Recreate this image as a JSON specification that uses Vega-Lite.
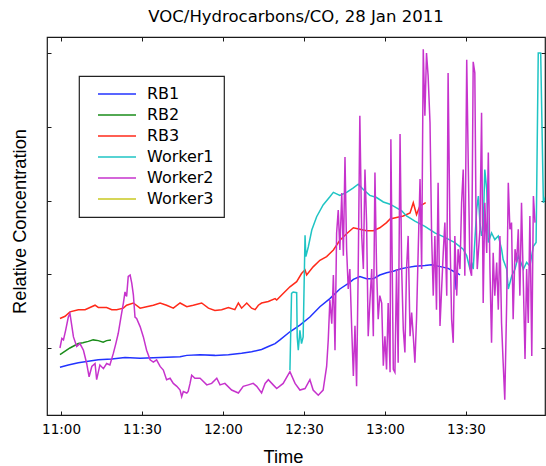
{
  "$schema": "https://vega.github.io/schema/vega-lite/v6.json",
  "width": 498,
  "height": 378,
  "autosize": {"type": "none"},
  "padding": {"left": 47, "top": 37, "right": 1, "bottom": 51},
  "background": "#ffffff",
  "config": {
    "view": {"stroke": "#1a1a1a", "strokeWidth": 1.2},
    "axis": {"grid": false, "domain": false, "tickColor": "#1a1a1a", "tickWidth": 1, "tickSize": -4},
    "legend": {"strokeColor": "#222222", "strokeWidth": 1.2}
  },
  "title": {
    "text": "VOC/Hydrocarbons/CO, 28 Jan 2011",
    "font": "DejaVu Sans",
    "fontSize": 16.5,
    "fontWeight": "normal",
    "color": "#000000",
    "anchor": "middle",
    "baseline": "alphabetic",
    "offset": -2
  },
  "datasets": {
    "conc": [
      {"series": "RB1", "time": 659.6, "conc": 0.74},
      {"series": "RB1", "time": 662.7, "conc": 0.77},
      {"series": "RB1", "time": 666.4, "conc": 0.80},
      {"series": "RB1", "time": 670.1, "conc": 0.82},
      {"series": "RB1", "time": 673.8, "conc": 0.84},
      {"series": "RB1", "time": 678.8, "conc": 0.85},
      {"series": "RB1", "time": 683.7, "conc": 0.87},
      {"series": "RB1", "time": 689.3, "conc": 0.86},
      {"series": "RB1", "time": 696.7, "conc": 0.87},
      {"series": "RB1", "time": 704.1, "conc": 0.88},
      {"series": "RB1", "time": 706.6, "conc": 0.90},
      {"series": "RB1", "time": 711.5, "conc": 0.91},
      {"series": "RB1", "time": 717.0, "conc": 0.90},
      {"series": "RB1", "time": 722.0, "conc": 0.91},
      {"series": "RB1", "time": 726.9, "conc": 0.93},
      {"series": "RB1", "time": 730.6, "conc": 0.95},
      {"series": "RB1", "time": 734.3, "conc": 0.98},
      {"series": "RB1", "time": 736.8, "conc": 1.02},
      {"series": "RB1", "time": 739.3, "conc": 1.06},
      {"series": "RB1", "time": 741.1, "conc": 1.11},
      {"series": "RB1", "time": 744.8, "conc": 1.22},
      {"series": "RB1", "time": 748.5, "conc": 1.31},
      {"series": "RB1", "time": 752.2, "conc": 1.42},
      {"series": "RB1", "time": 755.9, "conc": 1.56},
      {"series": "RB1", "time": 759.6, "conc": 1.67},
      {"series": "RB1", "time": 763.3, "conc": 1.80},
      {"series": "RB1", "time": 767.0, "conc": 1.89},
      {"series": "RB1", "time": 768.3, "conc": 1.93},
      {"series": "RB1", "time": 770.7, "conc": 1.97},
      {"series": "RB1", "time": 773.2, "conc": 1.94},
      {"series": "RB1", "time": 775.7, "conc": 1.94},
      {"series": "RB1", "time": 778.1, "conc": 1.99},
      {"series": "RB1", "time": 780.6, "conc": 2.02},
      {"series": "RB1", "time": 783.1, "conc": 2.04},
      {"series": "RB1", "time": 785.6, "conc": 2.07},
      {"series": "RB1", "time": 788.0, "conc": 2.09},
      {"series": "RB1", "time": 791.1, "conc": 2.11},
      {"series": "RB1", "time": 794.8, "conc": 2.12},
      {"series": "RB1", "time": 797.3, "conc": 2.13},
      {"series": "RB1", "time": 799.7, "conc": 2.11},
      {"series": "RB1", "time": 803.4, "conc": 2.08},
      {"series": "RB1", "time": 805.9, "conc": 2.03},
      {"series": "RB1", "time": 806.4, "conc": 1.79},
      {"series": "RB1", "time": 806.7, "conc": 2.02},
      {"series": "RB1", "time": 807.8, "conc": 1.99},

      {"series": "RB2", "time": 659.6, "conc": 0.91},
      {"series": "RB2", "time": 663.3, "conc": 1.00},
      {"series": "RB2", "time": 666.4, "conc": 1.06},
      {"series": "RB2", "time": 668.1, "conc": 1.07},
      {"series": "RB2", "time": 670.1, "conc": 1.09},
      {"series": "RB2", "time": 671.9, "conc": 1.11},
      {"series": "RB2", "time": 673.8, "conc": 1.10},
      {"series": "RB2", "time": 675.6, "conc": 1.08},
      {"series": "RB2", "time": 676.9, "conc": 1.10},
      {"series": "RB2", "time": 678.5, "conc": 1.11},

      {"series": "RB3", "time": 659.6, "conc": 1.40},
      {"series": "RB3", "time": 661.5, "conc": 1.43},
      {"series": "RB3", "time": 663.3, "conc": 1.49},
      {"series": "RB3", "time": 666.4, "conc": 1.52},
      {"series": "RB3", "time": 668.9, "conc": 1.52},
      {"series": "RB3", "time": 672.6, "conc": 1.58},
      {"series": "RB3", "time": 673.8, "conc": 1.55},
      {"series": "RB3", "time": 676.9, "conc": 1.55},
      {"series": "RB3", "time": 678.8, "conc": 1.52},
      {"series": "RB3", "time": 680.6, "conc": 1.52},
      {"series": "RB3", "time": 683.1, "conc": 1.54},
      {"series": "RB3", "time": 684.3, "conc": 1.58},
      {"series": "RB3", "time": 686.8, "conc": 1.61},
      {"series": "RB3", "time": 689.3, "conc": 1.54},
      {"series": "RB3", "time": 691.7, "conc": 1.56},
      {"series": "RB3", "time": 694.2, "conc": 1.58},
      {"series": "RB3", "time": 696.7, "conc": 1.61},
      {"series": "RB3", "time": 699.1, "conc": 1.58},
      {"series": "RB3", "time": 701.6, "conc": 1.54},
      {"series": "RB3", "time": 704.1, "conc": 1.61},
      {"series": "RB3", "time": 706.6, "conc": 1.56},
      {"series": "RB3", "time": 709.0, "conc": 1.58},
      {"series": "RB3", "time": 712.1, "conc": 1.61},
      {"series": "RB3", "time": 714.6, "conc": 1.54},
      {"series": "RB3", "time": 717.0, "conc": 1.51},
      {"series": "RB3", "time": 719.5, "conc": 1.52},
      {"series": "RB3", "time": 722.0, "conc": 1.55},
      {"series": "RB3", "time": 724.4, "conc": 1.52},
      {"series": "RB3", "time": 725.7, "conc": 1.61},
      {"series": "RB3", "time": 726.9, "conc": 1.54},
      {"series": "RB3", "time": 728.8, "conc": 1.61},
      {"series": "RB3", "time": 730.6, "conc": 1.54},
      {"series": "RB3", "time": 731.9, "conc": 1.52},
      {"series": "RB3", "time": 733.1, "conc": 1.58},
      {"series": "RB3", "time": 734.3, "conc": 1.61},
      {"series": "RB3", "time": 736.8, "conc": 1.63},
      {"series": "RB3", "time": 739.3, "conc": 1.67},
      {"series": "RB3", "time": 739.9, "conc": 1.65},
      {"series": "RB3", "time": 742.3, "conc": 1.74},
      {"series": "RB3", "time": 744.8, "conc": 1.83},
      {"series": "RB3", "time": 747.3, "conc": 1.90},
      {"series": "RB3", "time": 749.1, "conc": 2.01},
      {"series": "RB3", "time": 750.4, "conc": 2.06},
      {"series": "RB3", "time": 751.0, "conc": 1.99},
      {"series": "RB3", "time": 753.4, "conc": 2.10},
      {"series": "RB3", "time": 755.9, "conc": 2.19},
      {"series": "RB3", "time": 758.4, "conc": 2.24},
      {"series": "RB3", "time": 760.9, "conc": 2.33},
      {"series": "RB3", "time": 763.3, "conc": 2.46},
      {"series": "RB3", "time": 765.8, "conc": 2.55},
      {"series": "RB3", "time": 768.3, "conc": 2.63},
      {"series": "RB3", "time": 770.7, "conc": 2.61},
      {"series": "RB3", "time": 773.2, "conc": 2.59},
      {"series": "RB3", "time": 775.7, "conc": 2.59},
      {"series": "RB3", "time": 778.1, "conc": 2.63},
      {"series": "RB3", "time": 780.6, "conc": 2.70},
      {"series": "RB3", "time": 781.9, "conc": 2.75},
      {"series": "RB3", "time": 784.3, "conc": 2.77},
      {"series": "RB3", "time": 786.8, "conc": 2.79},
      {"series": "RB3", "time": 789.3, "conc": 2.83},
      {"series": "RB3", "time": 790.5, "conc": 2.97},
      {"series": "RB3", "time": 791.7, "conc": 2.81},
      {"series": "RB3", "time": 793.0, "conc": 2.93},
      {"series": "RB3", "time": 794.2, "conc": 2.95},
      {"series": "RB3", "time": 795.1, "conc": 2.97},

      {"series": "Worker1", "time": 744.8, "conc": 0.70},
      {"series": "Worker1", "time": 745.4, "conc": 1.74},
      {"series": "Worker1", "time": 746.0, "conc": 1.76},
      {"series": "Worker1", "time": 747.3, "conc": 1.75},
      {"series": "Worker1", "time": 747.5, "conc": 1.15},
      {"series": "Worker1", "time": 747.9, "conc": 0.97},
      {"series": "Worker1", "time": 748.5, "conc": 1.24},
      {"series": "Worker1", "time": 749.1, "conc": 1.06},
      {"series": "Worker1", "time": 749.7, "conc": 1.15},
      {"series": "Worker1", "time": 750.4, "conc": 2.53},
      {"series": "Worker1", "time": 750.7, "conc": 2.24},
      {"series": "Worker1", "time": 751.6, "conc": 2.37},
      {"series": "Worker1", "time": 752.9, "conc": 2.60},
      {"series": "Worker1", "time": 754.7, "conc": 2.78},
      {"series": "Worker1", "time": 757.1, "conc": 2.94},
      {"series": "Worker1", "time": 759.6, "conc": 3.05},
      {"series": "Worker1", "time": 760.9, "conc": 3.11},
      {"series": "Worker1", "time": 763.3, "conc": 3.07},
      {"series": "Worker1", "time": 765.8, "conc": 3.11},
      {"series": "Worker1", "time": 768.3, "conc": 3.17},
      {"series": "Worker1", "time": 770.1, "conc": 3.22},
      {"series": "Worker1", "time": 772.0, "conc": 3.15},
      {"series": "Worker1", "time": 774.4, "conc": 3.07},
      {"series": "Worker1", "time": 776.9, "conc": 3.04},
      {"series": "Worker1", "time": 779.4, "conc": 2.98},
      {"series": "Worker1", "time": 781.9, "conc": 2.95},
      {"series": "Worker1", "time": 784.3, "conc": 2.90},
      {"series": "Worker1", "time": 786.2, "conc": 2.86},
      {"series": "Worker1", "time": 788.0, "conc": 2.79},
      {"series": "Worker1", "time": 791.1, "conc": 2.72},
      {"series": "Worker1", "time": 794.8, "conc": 2.65},
      {"series": "Worker1", "time": 798.5, "conc": 2.56},
      {"series": "Worker1", "time": 802.2, "conc": 2.50},
      {"series": "Worker1", "time": 805.9, "conc": 2.43},
      {"series": "Worker1", "time": 809.0, "conc": 2.34},
      {"series": "Worker1", "time": 810.3, "conc": 2.25},
      {"series": "Worker1", "time": 811.5, "conc": 2.07},
      {"series": "Worker1", "time": 812.1, "conc": 2.16},
      {"series": "Worker1", "time": 812.7, "conc": 2.07},
      {"series": "Worker1", "time": 814.0, "conc": 2.88},
      {"series": "Worker1", "time": 814.6, "conc": 3.06},
      {"series": "Worker1", "time": 815.2, "conc": 2.70},
      {"series": "Worker1", "time": 815.8, "conc": 2.52},
      {"series": "Worker1", "time": 816.4, "conc": 2.61},
      {"series": "Worker1", "time": 817.0, "conc": 3.42},
      {"series": "Worker1", "time": 817.7, "conc": 3.15},
      {"series": "Worker1", "time": 818.3, "conc": 2.43},
      {"series": "Worker1", "time": 819.5, "conc": 2.56},
      {"series": "Worker1", "time": 820.7, "conc": 2.47},
      {"series": "Worker1", "time": 822.0, "conc": 2.52},
      {"series": "Worker1", "time": 823.2, "conc": 2.34},
      {"series": "Worker1", "time": 823.8, "conc": 2.20},
      {"series": "Worker1", "time": 825.1, "conc": 2.07},
      {"series": "Worker1", "time": 825.7, "conc": 1.80},
      {"series": "Worker1", "time": 827.0, "conc": 1.98},
      {"series": "Worker1", "time": 828.2, "conc": 2.07},
      {"series": "Worker1", "time": 829.4, "conc": 2.25},
      {"series": "Worker1", "time": 831.3, "conc": 2.07},
      {"series": "Worker1", "time": 832.5, "conc": 2.16},
      {"series": "Worker1", "time": 833.7, "conc": 2.11},
      {"series": "Worker1", "time": 835.0, "conc": 2.38},
      {"series": "Worker1", "time": 836.0, "conc": 2.43},
      {"series": "Worker1", "time": 836.8, "conc": 5.00},
      {"series": "Worker1", "time": 837.7, "conc": 5.00},
      {"series": "Worker1", "time": 838.7, "conc": 2.97},
      {"series": "Worker1", "time": 839.6, "conc": 3.06},

      {"series": "Worker2", "time": 659.6, "conc": 1.00},
      {"series": "Worker2", "time": 660.3, "conc": 1.13},
      {"series": "Worker2", "time": 660.9, "conc": 1.11},
      {"series": "Worker2", "time": 661.7, "conc": 1.24},
      {"series": "Worker2", "time": 662.7, "conc": 1.42},
      {"series": "Worker2", "time": 663.3, "conc": 1.47},
      {"series": "Worker2", "time": 664.6, "conc": 1.15},
      {"series": "Worker2", "time": 665.8, "conc": 1.02},
      {"series": "Worker2", "time": 667.0, "conc": 1.06},
      {"series": "Worker2", "time": 668.3, "conc": 0.97},
      {"series": "Worker2", "time": 669.5, "conc": 0.79},
      {"series": "Worker2", "time": 670.4, "conc": 0.61},
      {"series": "Worker2", "time": 671.4, "conc": 0.75},
      {"series": "Worker2", "time": 672.6, "conc": 0.79},
      {"series": "Worker2", "time": 673.2, "conc": 0.57},
      {"series": "Worker2", "time": 674.4, "conc": 0.77},
      {"series": "Worker2", "time": 675.7, "conc": 0.72},
      {"series": "Worker2", "time": 676.9, "conc": 0.79},
      {"series": "Worker2", "time": 678.1, "conc": 0.77},
      {"series": "Worker2", "time": 679.4, "conc": 0.93},
      {"series": "Worker2", "time": 680.3, "conc": 1.06},
      {"series": "Worker2", "time": 681.2, "conc": 1.20},
      {"series": "Worker2", "time": 682.2, "conc": 1.42},
      {"series": "Worker2", "time": 683.1, "conc": 1.61},
      {"series": "Worker2", "time": 683.7, "conc": 1.76},
      {"series": "Worker2", "time": 684.3, "conc": 1.70},
      {"series": "Worker2", "time": 684.9, "conc": 1.97},
      {"series": "Worker2", "time": 685.6, "conc": 1.99},
      {"series": "Worker2", "time": 686.2, "conc": 1.88},
      {"series": "Worker2", "time": 686.8, "conc": 1.72},
      {"series": "Worker2", "time": 687.4, "conc": 1.42},
      {"series": "Worker2", "time": 688.0, "conc": 1.40},
      {"series": "Worker2", "time": 689.3, "conc": 1.29},
      {"series": "Worker2", "time": 690.5, "conc": 1.15},
      {"series": "Worker2", "time": 691.7, "conc": 0.97},
      {"series": "Worker2", "time": 693.0, "conc": 0.84},
      {"series": "Worker2", "time": 694.2, "conc": 0.81},
      {"series": "Worker2", "time": 695.4, "conc": 0.84},
      {"series": "Worker2", "time": 696.7, "conc": 0.75},
      {"series": "Worker2", "time": 697.9, "conc": 0.70},
      {"series": "Worker2", "time": 699.1, "conc": 0.57},
      {"series": "Worker2", "time": 700.4, "conc": 0.59},
      {"series": "Worker2", "time": 701.6, "conc": 0.52},
      {"series": "Worker2", "time": 702.9, "conc": 0.48},
      {"series": "Worker2", "time": 704.1, "conc": 0.43},
      {"series": "Worker2", "time": 704.7, "conc": 0.34},
      {"series": "Worker2", "time": 705.3, "conc": 0.41},
      {"series": "Worker2", "time": 706.6, "conc": 0.39},
      {"series": "Worker2", "time": 707.1, "conc": 0.41},
      {"series": "Worker2", "time": 707.8, "conc": 0.52},
      {"series": "Worker2", "time": 708.4, "conc": 0.63},
      {"series": "Worker2", "time": 709.6, "conc": 0.59},
      {"series": "Worker2", "time": 711.5, "conc": 0.59},
      {"series": "Worker2", "time": 712.1, "conc": 0.57},
      {"series": "Worker2", "time": 714.0, "conc": 0.50},
      {"series": "Worker2", "time": 715.8, "conc": 0.52},
      {"series": "Worker2", "time": 717.7, "conc": 0.59},
      {"series": "Worker2", "time": 718.9, "conc": 0.50},
      {"series": "Worker2", "time": 720.7, "conc": 0.52},
      {"series": "Worker2", "time": 723.2, "conc": 0.43},
      {"series": "Worker2", "time": 725.7, "conc": 0.39},
      {"series": "Worker2", "time": 727.5, "conc": 0.48},
      {"series": "Worker2", "time": 729.4, "conc": 0.50},
      {"series": "Worker2", "time": 731.2, "conc": 0.52},
      {"series": "Worker2", "time": 732.5, "conc": 0.48},
      {"series": "Worker2", "time": 734.3, "conc": 0.39},
      {"series": "Worker2", "time": 735.6, "conc": 0.52},
      {"series": "Worker2", "time": 736.8, "conc": 0.57},
      {"series": "Worker2", "time": 738.6, "conc": 0.50},
      {"series": "Worker2", "time": 739.9, "conc": 0.45},
      {"series": "Worker2", "time": 742.3, "conc": 0.52},
      {"series": "Worker2", "time": 744.8, "conc": 0.68},
      {"series": "Worker2", "time": 746.7, "conc": 0.52},
      {"series": "Worker2", "time": 748.5, "conc": 0.43},
      {"series": "Worker2", "time": 750.4, "conc": 0.45},
      {"series": "Worker2", "time": 752.2, "conc": 0.57},
      {"series": "Worker2", "time": 753.4, "conc": 0.43},
      {"series": "Worker2", "time": 755.3, "conc": 0.36},
      {"series": "Worker2", "time": 757.1, "conc": 0.43},
      {"series": "Worker2", "time": 758.4, "conc": 0.75},
      {"series": "Worker2", "time": 759.0, "conc": 1.11},
      {"series": "Worker2", "time": 759.6, "conc": 1.65},
      {"series": "Worker2", "time": 760.3, "conc": 1.33},
      {"series": "Worker2", "time": 760.9, "conc": 1.99},
      {"series": "Worker2", "time": 761.5, "conc": 0.97},
      {"series": "Worker2", "time": 762.1, "conc": 2.56},
      {"series": "Worker2", "time": 762.7, "conc": 2.87},
      {"series": "Worker2", "time": 763.3, "conc": 2.33},
      {"series": "Worker2", "time": 764.0, "conc": 3.10},
      {"series": "Worker2", "time": 764.6, "conc": 2.25},
      {"series": "Worker2", "time": 765.2, "conc": 3.59},
      {"series": "Worker2", "time": 765.8, "conc": 2.34},
      {"series": "Worker2", "time": 766.4, "conc": 1.80},
      {"series": "Worker2", "time": 767.0, "conc": 2.07},
      {"series": "Worker2", "time": 767.7, "conc": 1.25},
      {"series": "Worker2", "time": 768.3, "conc": 0.62},
      {"series": "Worker2", "time": 768.9, "conc": 1.30},
      {"series": "Worker2", "time": 769.5, "conc": 0.48},
      {"series": "Worker2", "time": 770.1, "conc": 2.07},
      {"series": "Worker2", "time": 770.7, "conc": 4.15},
      {"series": "Worker2", "time": 771.4, "conc": 2.52},
      {"series": "Worker2", "time": 772.0, "conc": 2.07},
      {"series": "Worker2", "time": 772.6, "conc": 3.42},
      {"series": "Worker2", "time": 773.2, "conc": 2.70},
      {"series": "Worker2", "time": 773.8, "conc": 1.16},
      {"series": "Worker2", "time": 774.4, "conc": 1.61},
      {"series": "Worker2", "time": 775.1, "conc": 2.07},
      {"series": "Worker2", "time": 775.7, "conc": 1.16},
      {"series": "Worker2", "time": 776.3, "conc": 3.38},
      {"series": "Worker2", "time": 776.9, "conc": 2.07},
      {"series": "Worker2", "time": 777.5, "conc": 1.39},
      {"series": "Worker2", "time": 778.1, "conc": 1.71},
      {"series": "Worker2", "time": 778.8, "conc": 1.61},
      {"series": "Worker2", "time": 779.4, "conc": 0.76},
      {"series": "Worker2", "time": 780.0, "conc": 1.16},
      {"series": "Worker2", "time": 780.6, "conc": 0.71},
      {"series": "Worker2", "time": 781.2, "conc": 1.61},
      {"series": "Worker2", "time": 781.9, "conc": 0.67},
      {"series": "Worker2", "time": 782.2, "conc": 3.83},
      {"series": "Worker2", "time": 783.1, "conc": 0.71},
      {"series": "Worker2", "time": 783.7, "conc": 0.67},
      {"series": "Worker2", "time": 784.3, "conc": 2.07},
      {"series": "Worker2", "time": 784.9, "conc": 0.80},
      {"series": "Worker2", "time": 785.6, "conc": 3.90},
      {"series": "Worker2", "time": 786.2, "conc": 2.07},
      {"series": "Worker2", "time": 786.8, "conc": 1.25},
      {"series": "Worker2", "time": 787.4, "conc": 0.94},
      {"series": "Worker2", "time": 788.0, "conc": 2.07},
      {"series": "Worker2", "time": 788.6, "conc": 2.52},
      {"series": "Worker2", "time": 789.3, "conc": 1.16},
      {"series": "Worker2", "time": 789.9, "conc": 1.48},
      {"series": "Worker2", "time": 790.5, "conc": 1.16},
      {"series": "Worker2", "time": 791.1, "conc": 0.80},
      {"series": "Worker2", "time": 791.7, "conc": 1.39},
      {"series": "Worker2", "time": 792.3, "conc": 2.29},
      {"series": "Worker2", "time": 793.0, "conc": 3.29},
      {"series": "Worker2", "time": 793.6, "conc": 2.07},
      {"series": "Worker2", "time": 794.2, "conc": 5.05},
      {"series": "Worker2", "time": 794.8, "conc": 4.15},
      {"series": "Worker2", "time": 795.4, "conc": 5.00},
      {"series": "Worker2", "time": 796.0, "conc": 4.69},
      {"series": "Worker2", "time": 796.7, "conc": 4.05},
      {"series": "Worker2", "time": 797.3, "conc": 2.52},
      {"series": "Worker2", "time": 797.9, "conc": 1.71},
      {"series": "Worker2", "time": 798.5, "conc": 2.52},
      {"series": "Worker2", "time": 799.1, "conc": 1.52},
      {"series": "Worker2", "time": 799.7, "conc": 3.24},
      {"series": "Worker2", "time": 800.4, "conc": 1.30},
      {"series": "Worker2", "time": 801.0, "conc": 1.80},
      {"series": "Worker2", "time": 801.6, "conc": 2.29},
      {"series": "Worker2", "time": 802.2, "conc": 2.70},
      {"series": "Worker2", "time": 802.9, "conc": 1.71},
      {"series": "Worker2", "time": 803.4, "conc": 4.73},
      {"series": "Worker2", "time": 804.1, "conc": 2.52},
      {"series": "Worker2", "time": 804.7, "conc": 1.39},
      {"series": "Worker2", "time": 805.3, "conc": 1.07},
      {"series": "Worker2", "time": 805.9, "conc": 2.52},
      {"series": "Worker2", "time": 806.6, "conc": 1.71},
      {"series": "Worker2", "time": 807.1, "conc": 2.34},
      {"series": "Worker2", "time": 807.8, "conc": 2.07},
      {"series": "Worker2", "time": 808.4, "conc": 2.97},
      {"series": "Worker2", "time": 809.0, "conc": 3.42},
      {"series": "Worker2", "time": 809.6, "conc": 1.98},
      {"series": "Worker2", "time": 810.3, "conc": 4.91},
      {"series": "Worker2", "time": 810.9, "conc": 3.42},
      {"series": "Worker2", "time": 811.5, "conc": 2.07},
      {"series": "Worker2", "time": 812.1, "conc": 1.98},
      {"series": "Worker2", "time": 812.7, "conc": 4.88},
      {"series": "Worker2", "time": 813.3, "conc": 4.73},
      {"series": "Worker2", "time": 813.7, "conc": 2.97},
      {"series": "Worker2", "time": 814.2, "conc": 2.07},
      {"series": "Worker2", "time": 815.2, "conc": 2.61},
      {"series": "Worker2", "time": 815.8, "conc": 4.19},
      {"series": "Worker2", "time": 816.4, "conc": 1.61},
      {"series": "Worker2", "time": 817.0, "conc": 2.97},
      {"series": "Worker2", "time": 817.7, "conc": 2.29},
      {"series": "Worker2", "time": 818.3, "conc": 3.65},
      {"series": "Worker2", "time": 818.9, "conc": 2.07},
      {"series": "Worker2", "time": 819.5, "conc": 1.07},
      {"series": "Worker2", "time": 820.1, "conc": 2.29},
      {"series": "Worker2", "time": 820.7, "conc": 1.71},
      {"series": "Worker2", "time": 821.4, "conc": 2.16},
      {"series": "Worker2", "time": 822.0, "conc": 1.52},
      {"series": "Worker2", "time": 822.6, "conc": 2.52},
      {"series": "Worker2", "time": 823.2, "conc": 1.34},
      {"series": "Worker2", "time": 823.8, "conc": 0.80},
      {"series": "Worker2", "time": 824.4, "conc": 0.30},
      {"series": "Worker2", "time": 825.1, "conc": 1.61},
      {"series": "Worker2", "time": 825.7, "conc": 3.24},
      {"series": "Worker2", "time": 826.3, "conc": 2.61},
      {"series": "Worker2", "time": 826.9, "conc": 2.70},
      {"series": "Worker2", "time": 827.5, "conc": 1.39},
      {"series": "Worker2", "time": 828.2, "conc": 2.34},
      {"series": "Worker2", "time": 828.8, "conc": 2.16},
      {"series": "Worker2", "time": 829.4, "conc": 2.61},
      {"series": "Worker2", "time": 830.0, "conc": 1.71},
      {"series": "Worker2", "time": 830.6, "conc": 2.97},
      {"series": "Worker2", "time": 831.3, "conc": 1.84},
      {"series": "Worker2", "time": 831.9, "conc": 0.85},
      {"series": "Worker2", "time": 832.5, "conc": 2.07},
      {"series": "Worker2", "time": 833.1, "conc": 1.34},
      {"series": "Worker2", "time": 833.7, "conc": 2.79},
      {"series": "Worker2", "time": 834.4, "conc": 0.89},
      {"series": "Worker2", "time": 835.0, "conc": 3.06},
      {"series": "Worker2", "time": 835.6, "conc": 2.70}
    ]
  },
  "data": {"name": "conc"},
  "layer": [
    {
      "mark": {"type": "line", "strokeWidth": 1.5, "clip": true, "interpolate": "linear"},
      "encoding": {
        "x": {
          "field": "time",
          "type": "quantitative",
          "scale": {"domain": [654.8, 839.3], "nice": false, "zero": false},
          "axis": {
            "orient": "bottom",
            "values": [660, 690, 720, 750, 780, 810],
            "labelExpr": "floor(datum.value / 60) + ':' + (datum.value % 60 < 10 ? '0' : '') + (datum.value % 60)",
            "labelFont": "DejaVu Sans",
            "labelFontSize": 13.5,
            "labelColor": "#000000",
            "labelBaseline": "alphabetic",
            "labelPadding": 22,
            "labelFlush": false,
            "labelOverlap": false,
            "title": "Time",
            "titleFont": "Liberation Sans",
            "titleFontSize": 18.3,
            "titleFontWeight": "normal",
            "titleColor": "#000000",
            "titleBaseline": "alphabetic",
            "titleAlign": "center",
            "titleX": 236,
            "titleY": 47
          }
        },
        "y": {
          "field": "conc",
          "type": "quantitative",
          "scale": {"domain": [0.0915, 5.217], "nice": false, "zero": false},
          "axis": {
            "orient": "left",
            "values": [1, 2, 3, 4, 5],
            "labels": false,
            "title": "Relative Concentration",
            "titleFont": "Liberation Sans",
            "titleFontSize": 18.3,
            "titleFontWeight": "normal",
            "titleColor": "#000000",
            "titleAngle": 270,
            "titleAlign": "center",
            "titleBaseline": "alphabetic",
            "titleX": -22,
            "titleY": 184
          }
        },
        "color": {
          "field": "series",
          "type": "nominal",
          "scale": {
            "domain": ["RB1", "RB2", "RB3", "Worker1", "Worker2", "Worker3"],
            "range": ["#2233ff", "#1a8c1a", "#ff2a1a", "#1fc4c4", "#c633cc", "#c8c820"]
          },
          "legend": {
            "orient": "none",
            "legendX": 32,
            "legendY": 39,
            "title": null,
            "fillColor": "#ffffff",
            "padding": 10,
            "rowPadding": 5,
            "symbolType": "M-3.8,0H3.8",
            "symbolSize": 100,
            "symbolStrokeWidth": 1.6,
            "symbolOffset": 20,
            "labelOffset": 22,
            "labelFont": "DejaVu Sans",
            "labelFontSize": 16,
            "labelColor": "#000000",
            "cornerRadius": 0
          }
        }
      }
    },
    {
      "mark": {"type": "point", "opacity": 0},
      "encoding": {
        "x": {
          "field": "time",
          "type": "quantitative",
          "axis": {"orient": "top", "values": [660, 690, 720, 750, 780, 810], "labels": false, "title": null}
        },
        "y": {
          "field": "conc",
          "type": "quantitative",
          "axis": {"orient": "right", "values": [1, 2, 3, 4, 5], "labels": false, "title": null}
        }
      }
    }
  ],
  "resolve": {"axis": {"x": "independent", "y": "independent"}}
}
